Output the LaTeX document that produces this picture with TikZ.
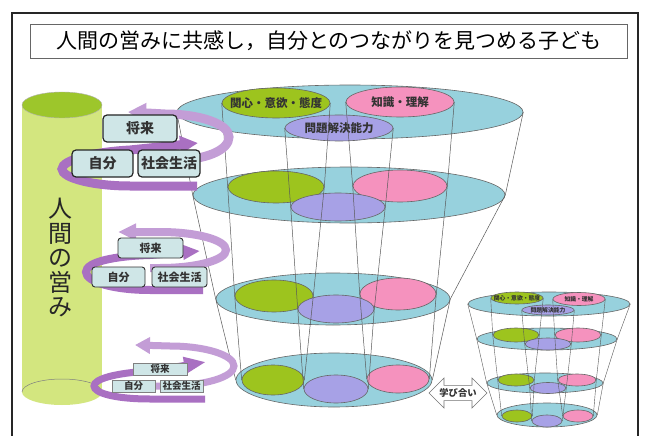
\documentclass[tikz,border=0pt]{standalone}
\usepackage{fontspec}
\setmainfont{Noto Sans CJK JP}
\usetikzlibrary{shapes.geometric,shapes.arrows,arrows.meta}
\definecolor{cyl}{HTML}{D3E67F}
\definecolor{cyltop}{HTML}{9DC62B}
\definecolor{rib}{HTML}{A970C2}
\definecolor{ribl}{HTML}{C39DD6}
\definecolor{boxf}{HTML}{CFE6E7}
\definecolor{layerc}{HTML}{97D1DD}
\definecolor{gr}{HTML}{9DC41E}
\definecolor{pk}{HTML}{F592BE}
\definecolor{pu}{HTML}{A7A1E6}
\definecolor{txt}{HTML}{333333}
\newcommand\myell[6]{\node[ell,fill=#2,minimum width={2*#5},minimum height={2*#6}] (#1) at (#3,#4) {};}
\begin{document}
\begin{tikzpicture}[x=1pt,y=-1pt,
  ell/.style={ellipse, inner sep=0pt, draw=black!60, line width=0.6pt},
  cl/.style={draw=black!65, line width=0.5pt},
  ribA/.style={draw=rib, line cap=butt},
  ribB/.style={draw=ribl, line cap=butt},
  boxa/.style={draw=black!85, line width=1.2pt, rounded corners=4pt, fill=boxf, inner sep=0pt, text=txt, font=\bfseries\fontsize{14}{14}\selectfont},
  boxb/.style={draw=black!80, line width=0.9pt, rounded corners=3pt, fill=boxf, inner sep=0pt, text=txt, font=\bfseries\fontsize{11}{11}\selectfont},
  boxc/.style={draw=black!50, line width=0.5pt, fill=boxf, inner sep=0pt, text=txt, font=\bfseries\fontsize{9.5}{9.5}\selectfont},
  lbl/.style={inner sep=0pt, text=txt, font=\bfseries\fontsize{11.5}{11.5}\selectfont},
  slbl/.style={inner sep=0pt, text=txt, font=\bfseries\fontsize{5.8}{5.8}\selectfont}]
\useasboundingbox (0,0) rectangle (646,436);
\fill[white] (0,0) rectangle (646,436);
% frame
\draw[line width=2pt, black!85] (12,440) -- (12,13) -- (638,13) -- (638,440);
% title
\node[draw=black!60, line width=0.8pt, fill=white, minimum width=597pt, minimum height=34pt, inner sep=0pt, font=\fontsize{21}{21}\selectfont] (title) at (329,41) {人間の営みに共感し，自分とのつながりを見つめる子ども};
% big funnel
\myell{L1}{layerc}{350}{112}{173}{27}
\myell{G1}{gr}{276}{103}{54}{15}
\myell{K1}{pk}{400}{102}{54}{15}
\myell{P1}{pu}{339}{128}{54}{13}
\myell{L2}{layerc}{349}{195}{156}{28}
\myell{G2}{gr}{276}{187}{48}{16}
\myell{K2}{pk}{400}{186}{47}{16}
\myell{P2}{pu}{338}{207}{47}{14}
\myell{L3}{layerc}{333}{299}{117}{26}
\myell{G3}{gr}{274}{296}{39}{16}
\myell{K3}{pk}{398}{294}{38}{16}
\myell{P3}{pu}{336}{309}{38}{14}
\myell{L4}{layerc}{334}{380}{98}{27}
\myell{G4}{gr}{273}{380}{31}{15}
\myell{K4}{pk}{398}{379}{31}{14}
\myell{P4}{pu}{336}{389}{32}{14}
\node[lbl] (tG1) at (G1) {関心・意欲・態度};
\node[lbl] (tK1) at (K1) {知識・理解};
\node[lbl] (tP1) at (P1) {問題解決能力};
\foreach \s in {L,G,K,P}{
  \draw[cl] (\s1.west) -- (\s2.west) -- (\s3.west) -- (\s4.west);
  \draw[cl] (\s1.east) -- (\s2.east) -- (\s3.east) -- (\s4.east);
}
% small funnel
\myell{SL1}{layerc}{549}{304}{81}{12}
\myell{SG1}{gr}{517}{298}{26}{6}
\myell{SK1}{pk}{579}{299}{26}{6.5}
\myell{SP1}{pu}{548}{310}{26}{5}
\myell{SL2}{layerc}{547}{339}{70}{11}
\myell{SG2}{gr}{516}{335}{23}{7}
\myell{SK2}{pk}{578}{335}{23}{7}
\myell{SP2}{pu}{548}{344}{23}{6}
\myell{SL3}{layerc}{545}{383}{58}{10}
\myell{SG3}{gr}{516}{380}{18}{6}
\myell{SK3}{pk}{577}{380}{19}{6}
\myell{SP3}{pu}{548}{388}{18}{5.5}
\myell{SL4}{layerc}{547}{415}{50}{12}
\myell{SG4}{gr}{517}{416}{15}{6}
\myell{SK4}{pk}{578}{416}{15}{6}
\myell{SP4}{pu}{547}{421}{15}{6}
\node[slbl] (sG1) at (SG1) {関心・意欲・態度};
\node[slbl] (sK1) at (SK1) {知識・理解};
\node[slbl] (sP1) at (SP1) {問題解決能力};
\foreach \s in {SL,SG,SK,SP}{
  \draw[cl, line width=0.4pt] (\s1.west) -- (\s2.west) -- (\s3.west) -- (\s4.west);
  \draw[cl, line width=0.4pt] (\s1.east) -- (\s2.east) -- (\s3.east) -- (\s4.east);
}
% manabiai
\node[double arrow, draw=black!55, fill=white, line width=0.6pt, minimum height=49pt, minimum width=30pt, double arrow head extend=7pt, inner sep=2.5pt, text=txt, font=\bfseries\fontsize{9.3}{9.3}\selectfont] (manabi) at (458,393) {学び合い};
% cylinder
\fill[cyl] (22,105) rectangle (102,392);
\fill[cyl] (62,392) ellipse (40pt and 13pt);
\draw[black!50, line width=0.5pt] (22,392) arc[start angle=180, end angle=360, x radius=40pt, y radius=-13pt];
\fill[cyltop, draw=black!30, line width=0.4pt] (62,105) ellipse (40pt and 13pt);
\node[inner sep=0pt, align=center, text=black!85, font=\fontsize{24}{24.5}\selectfont] (hum) at (60,258) {人\\間\\の\\営\\み};
% spiral 1
\draw[ribB, line width=9pt, -{Triangle[width=19pt,length=18pt]}] (140,160) -- (175,160) .. controls (206,160) and (229,150) .. (229,137) .. controls (229,124) and (200,114) .. (165,114) -- (128,112);
\draw[ribA, line width=9pt, -{Triangle[width=17pt,length=18pt]}] (197,186) -- (130,186) .. controls (93,186) and (62,178) .. (62,169) .. controls (62,160) and (93,152) .. (130,150) -- (198,143);
\node[boxa, minimum width=74pt, minimum height=27pt] (f1) at (140,128.5) {将来};
\node[boxa, minimum width=61pt, minimum height=27pt] (j1) at (102.5,163.5) {自分};
\node[boxa, minimum width=62pt, minimum height=27pt] (s1) at (169,163.5) {社会生活};
% spiral 2
\draw[ribB, line width=8pt, -{Triangle[width=16pt,length=18pt]}] (150,268) -- (160,268) .. controls (197,268) and (226,260) .. (226,250) .. controls (226,240) and (197,232) .. (160,232) -- (118,232);
\draw[ribA, line width=8pt, -{Triangle[width=14pt,length=17pt]}] (203,290) -- (150,290) .. controls (114,290) and (86,282) .. (86,272) .. controls (86,262) and (114,256) .. (150,255) -- (200,251);
\node[boxb, minimum width=65pt, minimum height=20pt] (f2) at (150.5,248) {将来};
\node[boxb, minimum width=53pt, minimum height=20pt] (j2) at (118.5,277) {自分};
\node[boxb, minimum width=55pt, minimum height=20pt] (s2) at (179.5,277) {社会生活};
% spiral 3
\draw[ribB, line width=7pt, -{Triangle[width=16pt,length=15pt]}] (150,386) -- (165,386) .. controls (205,386) and (234,377) .. (234,366) .. controls (234,355) and (205,346) .. (170,346) -- (135,345);
\draw[ribA, line width=7pt, -{Triangle[width=16pt,length=22pt]}] (205,399) -- (150,399) .. controls (115,399) and (94,393) .. (94,386) .. controls (94,379) and (115,373) .. (150,371) -- (206,362);
\node[boxc, minimum width=54pt, minimum height=12pt] (f3) at (160,369) {将来};
\node[boxc, minimum width=43pt, minimum height=12pt] (j3) at (133.5,386) {自分};
\node[boxc, minimum width=43pt, minimum height=12pt] (s3) at (181.5,386) {社会生活};
\end{tikzpicture}
\end{document}
